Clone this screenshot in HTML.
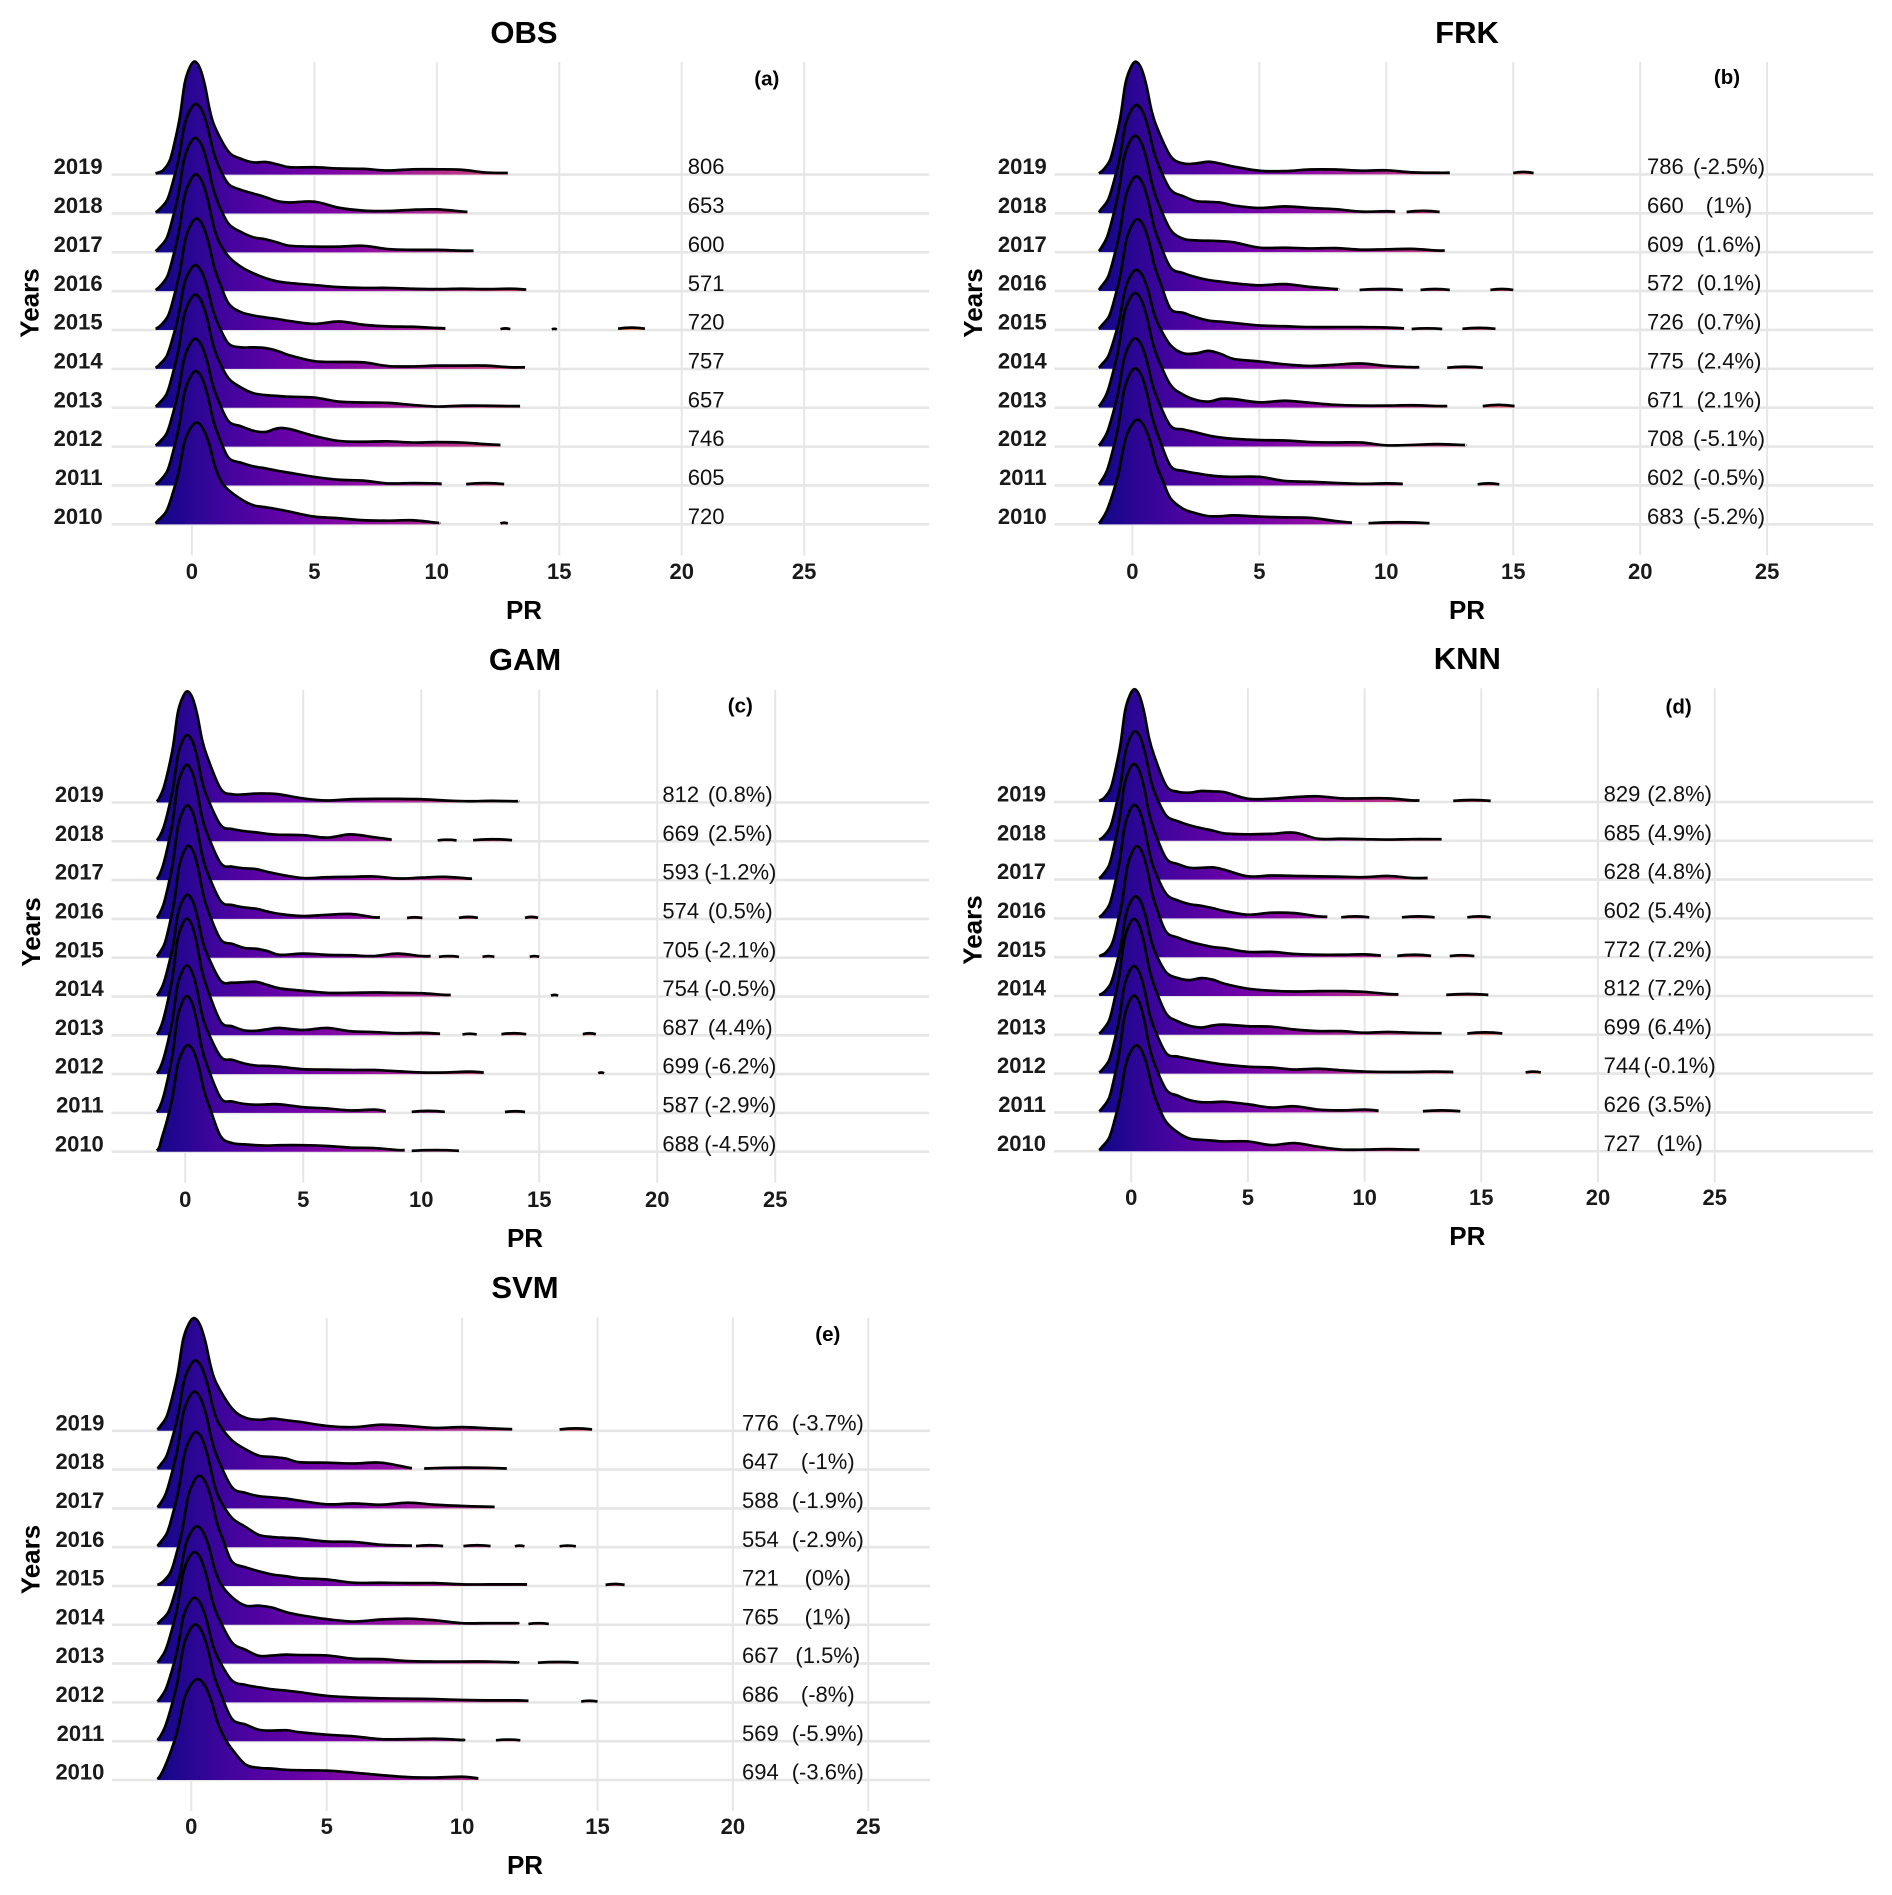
<!DOCTYPE html>
<html lang="en">
<head>
<meta charset="utf-8">
<title>Precipitation ridgeline plots 2010-2019</title>
<style>
html,body{margin:0;padding:0;background:#fff;}
svg{display:block;font-family:"Liberation Sans",Arial,sans-serif;}
.title{font-size:31px;font-weight:700;text-anchor:middle;fill:#000;}
.axt{font-size:26px;font-weight:700;text-anchor:middle;fill:#000;}
.tag{font-size:20.5px;font-weight:700;text-anchor:middle;fill:#000;}
.tick{font-size:22px;font-weight:700;text-anchor:middle;fill:#1a1a1a;}
.yr{font-size:22px;font-weight:700;text-anchor:end;fill:#1a1a1a;}
.val{font-size:22px;fill:#111;}
.pct{font-size:22px;fill:#111;text-anchor:middle;}
</style>
</head>
<body>
<svg id="chart" xmlns="http://www.w3.org/2000/svg" width="1892" height="1895" viewBox="0 0 1892 1895">
<rect x="0" y="0" width="1892" height="1895" fill="#fff"/>
<defs id="defs"></defs>

<g id="panel-obs">
<g class="plot"></g>
<text class="title" x="524" y="43">OBS</text>
<text class="axt" x="524" y="619">PR</text>
<text class="axt" transform="translate(38.5,303) rotate(-90)">Years</text>
<text class="tag" x="766.8" y="85.5">(a)</text>
</g>

<g id="panel-frk">
<g class="plot"></g>
<text class="title" x="1467" y="43">FRK</text>
<text class="axt" x="1467" y="619">PR</text>
<text class="axt" transform="translate(982,303) rotate(-90)">Years</text>
<text class="tag" x="1727" y="84">(b)</text>
</g>

<g id="panel-gam">
<g class="plot"></g>
<text class="title" x="525" y="670">GAM</text>
<text class="axt" x="525" y="1247">PR</text>
<text class="axt" transform="translate(39.8,932) rotate(-90)">Years</text>
<text class="tag" x="740.3" y="712.5">(c)</text>
</g>

<g id="panel-knn">
<g class="plot"></g>
<text class="title" x="1467.3" y="669">KNN</text>
<text class="axt" x="1467.3" y="1245">PR</text>
<text class="axt" transform="translate(981.5,930) rotate(-90)">Years</text>
<text class="tag" x="1678.6" y="713.3">(d)</text>
</g>

<g id="panel-svm">
<g class="plot"></g>
<text class="title" x="525" y="1298">SVM</text>
<text class="axt" x="525" y="1874">PR</text>
<text class="axt" transform="translate(39.5,1559.5) rotate(-90)">Years</text>
<text class="tag" x="827.8" y="1341">(e)</text>
</g>
</svg>

<script>
// Shared categories and ticks
const years = [2019,2018,2017,2016,2015,2014,2013,2012,2011,2010];
const xTicks = [0,5,10,15,20,25];
// Density grid for the right tail (PR units)
const tailX = [1.5,2,2.5,3,3.5,4,5,6,7,8,9,10,11,12,13,14];
// Normalised shape of the main mode
const coreOffset = [-1.6,-1.29,-1.02,-0.81,-0.61,-0.41,-0.2,0,0.21,0.41,0.61,0.82];
const coreShape = [0.01,0.04,0.127,0.30,0.51,0.81,0.95,1,0.94,0.79,0.57,0.42];
const endDensity = 4;

// OBS
const obsCounts = [806,653,600,571,720,757,657,746,605,720];
const obsPct = ["","","","","","","","","",""];
const obsPeakX = [0.12,0.17,0.15,0.17,0.2,0.15,0.15,0.15,0.17,0.2];
const obsPeak = [278,269,281,287,274,255,278,265,281,250];
const obsWidth = [1,1.15,1.15,1.15,1.15,1.15,1.15,1.15,1.15,1.22];
const obsEnd = [12.9,11.25,11.5,13.65,10.35,13.6,13.4,12.6,10.2,10.1];
const obsTail = [
 [56,39,30,31,25,18,18,15,14,10,13,13,12,5],
 [72,58,49,40,30,27,29,14,7,6,9,10,5],
 [70,50,37,32,24,16,14,14,16,8,6,6,4],
 [85,60,44,32,24,20,15,10,8,8,6,5,6,5,6],
 [65,44,36,31,27,22,15,21,13,9,8,5],
 [62,53,53,51,44,33,19,17,16,7,6,8,8,8,4],
 [72,50,36,31,29,27,25,15,13,12,7,3,5,5,4],
 [62,50,39,36,45,43,26,14,12,13,10,11,10,6],
 [68,56,47,42,36,31,21,14,12,5,6,5],
 [84,62,47,42,37,31,19,15,10,9,10,4]
];
const obsIslands = [[],[],[],[],[[12.6,13,4],[14.7,14.9,3],[17.4,18.5,6]],[],[],[],[[11.2,12.75,6]],[[12.6,12.9,4]]];

// FRK
const frkCounts = [786,660,609,572,726,775,671,708,602,683];
const frkPct = ["(-2.5%)","(1%)","(1.6%)","(0.1%)","(0.7%)","(2.4%)","(2.1%)","(-5.1%)","(-0.5%)","(-5.2%)"];
const frkPeakX = [0.14,0.17,0.12,0.17,0.21,0.17,0.12,0.12,0.12,0.21];
const frkPeak = [277,266,286,282,272,243,282,266,288,257];
const frkWidth = [1,1.1,1.1,1.1,1.1,1.1,1.1,1.1,1.1,1.2];
const frkEnd = [12.5,10.35,12.3,8.1,10.7,11.3,12.4,13.1,10.65,8.65];
const frkTail = [
 [45,27,27,31,26,19,9,8,12,12,9,10,5,4],
 [58,42,30,28,26,19,13,17,13,10,4,5],
 [55,33,29,28,27,24,11,11,9,10,6,7,8,4],
 [58,44,34,27,23,19,14,17,10,5],
 [52,42,31,23,20,17,11,9,7,7,7,6],
 [58,38,38,44,36,24,18,11,7,10,13,7,4],
 [56,32,19,15,22,21,13,17,12,7,5,5,6,4],
 [51,42,35,27,22,19,16,15,11,10,10,3,4,6,4],
 [48,36,30,25,22,21,21,11,9,6,4,5],
 [64,38,27,20,20,22,19,17,16,8]
];
const frkIslands = [[[15,15.8,6]],[[10.8,12.1,6]],[],[[8.95,10.65,5],[11.35,12.5,5],[14.1,15,5]],[[11,12.2,4],[13,14.3,5]],[[12.4,13.8,5]],[[13.8,15.05,7]],[],[[13.6,14.45,5]],[[9.3,11.7,5]]];

// GAM
const gamCounts = [812,669,593,574,705,754,687,699,587,688];
const gamPct = ["(0.8%)","(2.5%)","(-1.2%)","(0.5%)","(-2.1%)","(-0.5%)","(4.4%)","(-6.2%)","(-2.9%)","(-4.5%)"];
const gamPeakX = [0.1,0.1,0.08,0.1,0.15,0.1,0.08,0.08,0.08,0.13];
const gamPeak = [273,261,283,279,275,250,287,267,287,262];
const gamWidth = [1,1,1,1,1,1,1,1,1,1.1];
const gamEnd = [14.1,8.75,12.15,8.25,10.4,11.25,10.8,12.65,8.5,9.3];
const gamTail = [
 [34,20,20,22,22,20,10,5,8,9,9,8,5,3,4,3],
 [40,30,25,22,18,16,15,9,17,10],
 [42,33,29,27,20,14,5,7,8,9,4,6,8,4],
 [44,34,28,25,18,12,7,10,12,4],
 [45,34,24,22,16,7,10,7,6,4,10,4],
 [39,34,35,36,28,20,14,9,9,10,9,8,4],
 [34,22,12,11,15,18,13,18,10,8,5,6],
 [43,35,26,21,20,18,12,11,10,10,7,4,4,6],
 [37,28,22,20,21,21,14,11,6,8],
 [38,21,18,16,15,16,16,14,10,9,4]
];
const gamIslands = [[],[[10.7,11.5,4],[12.2,13.85,5]],[],[[9.4,10.05,4],[11.6,12.4,5],[14.4,14.95,5]],[[10.75,11.6,4],[12.6,13.1,4],[14.6,15,4]],[[15.5,15.8,4]],[[11.75,12.35,4],[13.4,14.45,5],[16.85,17.4,5]],[[17.5,17.75,4]],[[9.6,11,5],[13.55,14.4,4]],[[9.6,11.6,4]]];

// KNN
const knnCounts = [829,685,628,602,772,812,699,744,626,727];
const knnPct = ["(2.8%)","(4.9%)","(4.8%)","(5.4%)","(7.2%)","(7.2%)","(6.4%)","(-0.1%)","(3.5%)","(1%)"];
const knnPeakX = [0.15,0.18,0.13,0.15,0.26,0.2,0.13,0.13,0.13,0.23];
const knnPeak = [277,269,284,279,273,245,285,264,287,260];
const knnWidth = [1,1.05,1.05,1.05,1.05,1.05,1.05,1.05,1.05,1.15];
const knnEnd = [12.35,13.3,12.7,8.4,10.7,11.45,13.3,13.8,10.6,12.35];
const knnTail = [
 [40,25,23,27,26,24,8,8,12,14,9,9,9,4],
 [62,48,38,31,25,18,16,17,20,5,5,4,3,4,4],
 [52,38,29,29,30,24,8,10,9,8,7,6,9,4],
 [60,44,35,31,25,18,9,14,13,5],
 [62,48,38,31,25,22,13,13,8,6,6,7],
 [58,44,39,44,40,30,18,13,11,12,12,10,5],
 [52,33,22,18,23,25,21,20,13,9,9,5,7,5,4],
 [50,42,36,31,26,22,17,15,10,12,8,5,4,4,5],
 [56,41,30,25,25,26,20,12,15,7,5,7],
 [72,46,31,28,26,24,24,15,20,11,4,4,5,4]
];
const knnIslands = [[[13.8,15.4,5]],[],[],[[9,10.2,5],[11.6,13,5],[14.4,15.4,5]],[[11.4,12.85,6],[13.65,14.7,5]],[[13.5,15.3,5]],[[14.4,15.9,6]],[[16.9,17.55,5]],[[12.5,14.1,5]],[]];

// SVM
const svmCounts = [776,647,588,554,721,765,667,686,569,694];
const svmPct = ["(-3.7%)","(-1%)","(-1.9%)","(-2.9%)","(0%)","(1%)","(1.5%)","(-8%)","(-5.9%)","(-3.6%)"];
const svmPeakX = [0.11,0.16,0.13,0.18,0.31,0.22,0.13,0.13,0.16,0.24];
const svmPeak = [277,268,287,283,271,242,274,257,287,248];
const svmWidth = [1,1.05,1.05,1.05,1.05,1.05,1.05,1.05,1.1,1.2];
const svmEnd = [11.85,8.15,11.2,8.15,12.4,12,12,12.45,10,10.6];
const svmTail = [
 [55,32,27,30,26,22,12,9,15,12,7,9,6],
 [72,50,34,31,27,18,17,15,17,5],
 [52,38,30,27,24,19,10,12,9,14,9,6,4],
 [72,50,30,25,23,21,14,13,6,4],
 [60,46,36,28,24,19,16,8,8,7,7,4,4,4],
 [68,47,47,42,31,24,14,8,13,15,11,4,4,4],
 [52,34,19,20,22,21,20,12,11,6,5,5,5,3],
 [54,43,37,32,29,25,16,12,10,9,8,6,5,5],
 [55,41,28,26,27,22,16,12,5,5,6,3],
 [76,38,30,28,25,24,23,18,12,7,6,8]
];
const svmIslands = [[[13.6,14.8,6]],[[8.6,11.65,5]],[],[[8.3,9.3,5],[10.05,11.05,5],[11.95,12.3,4],[13.6,14.2,4]],[[15.3,16,5]],[[12.45,13.2,4]],[[12.8,14.3,4]],[[14.4,15,4]],[[11.25,12.15,4]],[]];

// Colour ramp (plasma) stops
const plasmaStops = ["#0D0887","#41049D","#6A00A8","#8F0DA4","#B12A90","#CC4678","#E16462","#F1844B","#FCA636","#FCCE25","#F0F921"];
const gradientDomain = [-1.5,27];

const NS = 'http://www.w3.org/2000/svg';
const densityToPx = 0.407;

const panels = [
 {id:'obs',x0:191.9,ppu:24.49,base0:174.6,step:38.86,top:61.9,left:111.6,right:929,yrX:102.6,valX:687.8,pctX:766.8,tickY:579,leftEnd:-1.48,counts:obsCounts,pct:obsPct,peakX:obsPeakX,peak:obsPeak,width:obsWidth,end:obsEnd,tail:obsTail,islands:obsIslands},
 {id:'frk',x0:1132.4,ppu:25.39,base0:174.4,step:38.88,top:61.9,left:1054.6,right:1873.3,yrX:1046.8,valX:1647,pctX:1729,tickY:579,leftEnd:-1.32,counts:frkCounts,pct:frkPct,peakX:frkPeakX,peak:frkPeak,width:frkWidth,end:frkEnd,tail:frkTail,islands:frkIslands},
 {id:'gam',x0:185.2,ppu:23.6,base0:802.5,step:38.8,top:689.8,left:111.6,right:929,yrX:103.8,valX:662.4,pctX:740.3,tickY:1206.8,leftEnd:-1.2,counts:gamCounts,pct:gamPct,peakX:gamPeakX,peak:gamPeak,width:gamWidth,end:gamEnd,tail:gamTail,islands:gamIslands},
 {id:'knn',x0:1131.2,ppu:23.34,base0:802,step:38.8,top:688.2,left:1054,right:1873,yrX:1046,valX:1603.6,pctX:1679.6,tickY:1205.2,leftEnd:-1.37,counts:knnCounts,pct:knnPct,peakX:knnPeakX,peak:knnPeak,width:knnWidth,end:knnEnd,tail:knnTail,islands:knnIslands},
 {id:'svm',x0:191.3,ppu:27.08,base0:1430.8,step:38.8,top:1317.7,left:112,right:930,yrX:104.4,valX:742,pctX:827.8,tickY:1834.2,leftEnd:-1.25,counts:svmCounts,pct:svmPct,peakX:svmPeakX,peak:svmPeak,width:svmWidth,end:svmEnd,tail:svmTail,islands:svmIslands}
];

function smoothPath(pts, start){
  let d = start ? start : ('M' + pts[0][0].toFixed(2) + ' ' + pts[0][1].toFixed(2));
  for (let i = 0; i < pts.length - 1; i++) {
    const p0 = pts[Math.max(0, i - 1)], p1 = pts[i], p2 = pts[i + 1], p3 = pts[Math.min(pts.length - 1, i + 2)];
    const c1x = p1[0] + (p2[0] - p0[0]) / 6, c1y = p1[1] + (p2[1] - p0[1]) / 6;
    const c2x = p2[0] - (p3[0] - p1[0]) / 6, c2y = p2[1] - (p3[1] - p1[1]) / 6;
    d += 'C' + c1x.toFixed(2) + ' ' + c1y.toFixed(2) + ' ' + c2x.toFixed(2) + ' ' + c2y.toFixed(2) + ' ' + p2[0].toFixed(2) + ' ' + p2[1].toFixed(2);
  }
  return d;
}

const defs = document.getElementById('defs');

panels.forEach(function (p) {
  const plot = document.querySelector('#panel-' + p.id + ' .plot');
  const xScale = function (v) { return p.x0 + p.ppu * v; };
  const yBase = function (i) { return p.base0 + p.step * i; };
  const yDensity = function (i, d) { return yBase(i) - d * densityToPx; };
  const gridBottom = yBase(years.length - 1) + 31;

  // gradient
  const grad = document.createElementNS(NS, 'linearGradient');
  grad.setAttribute('id', 'fill-' + p.id);
  grad.setAttribute('gradientUnits', 'userSpaceOnUse');
  grad.setAttribute('x1', xScale(gradientDomain[0]));
  grad.setAttribute('x2', xScale(gradientDomain[1]));
  grad.setAttribute('y1', 0);
  grad.setAttribute('y2', 0);
  plasmaStops.forEach(function (c, k) {
    const s = document.createElementNS(NS, 'stop');
    s.setAttribute('offset', k / (plasmaStops.length - 1));
    s.setAttribute('stop-color', c);
    grad.appendChild(s);
  });
  defs.appendChild(grad);
  const fillUrl = 'url(#fill-' + p.id + ')';

  // vertical gridlines and tick labels
  xTicks.forEach(function (t) {
    const ln = document.createElementNS(NS, 'line');
    
    
    ln.setAttribute('x1', xScale(t));
    ln.setAttribute('x2', xScale(t));
    ln.setAttribute('y1', p.top);
    ln.setAttribute('y2', gridBottom);
    ln.setAttribute('stroke', '#e6e6e6');
    ln.setAttribute('stroke-width', '2');
    plot.appendChild(ln);
    const tx = document.createElementNS(NS, 'text');
    
    
    tx.setAttribute('class', 'tick');
    tx.setAttribute('x', xScale(t));
    tx.setAttribute('y', p.tickY);
    tx.textContent = t;
    plot.appendChild(tx);
  });

  // horizontal gridlines
  years.forEach(function (yr, i) {
    const ln = document.createElementNS(NS, 'line');
    
    
    ln.setAttribute('x1', p.left);
    ln.setAttribute('x2', p.right);
    ln.setAttribute('y1', yBase(i));
    ln.setAttribute('y2', yBase(i));
    ln.setAttribute('stroke', '#e6e6e6');
    ln.setAttribute('stroke-width', '2.6');
    plot.appendChild(ln);
  });

  // ridges, top year first so lower years paint over
  years.forEach(function (yr, i) {
    const g = document.createElementNS(NS, 'g');
    
    
    const base = yBase(i);
    const pts = [];
    coreOffset.forEach(function (o, k) {
      let xv = p.peakX[i] + o * p.width[i];
      if (k === 0) {
        xv = p.leftEnd;
      } else if (o < 0) {
        xv = Math.max(xv, p.leftEnd + 0.1 * k);
      }
      pts.push([xScale(xv), yDensity(i, p.peak[i] * coreShape[k])]);
    });
    p.tail[i].forEach(function (d, k) {
      pts.push([xScale(tailX[k]), yDensity(i, d)]);
    });
    pts.push([xScale(p.end[i]), yDensity(i, endDensity)]);

    const area = document.createElementNS(NS, 'path');
    
    
    const startAt = 'M' + pts[0][0].toFixed(2) + ' ' + base.toFixed(2) + 'L' + pts[0][0].toFixed(2) + ' ' + pts[0][1].toFixed(2);
    area.setAttribute('d', smoothPath(pts, startAt) + 'L' + pts[pts.length - 1][0].toFixed(2) + ' ' + base.toFixed(2) + 'Z');
    area.setAttribute('fill', fillUrl);
    g.appendChild(area);

    const line = document.createElementNS(NS, 'path');
    
    
    line.setAttribute('d', smoothPath(pts));
    line.setAttribute('fill', 'none');
    line.setAttribute('stroke', '#000');
    line.setAttribute('stroke-width', '2.7');
    line.setAttribute('stroke-linejoin', 'round');
    g.appendChild(line);

    p.islands[i].forEach(function (isl) {
      const x0 = xScale(isl[0]), x1 = xScale(isl[1]);
      const yTop = yDensity(i, isl[2]);
      const lift = yDensity(i, isl[2] * 0.55);
      const isA = document.createElementNS(NS, 'path');
      
      
      isA.setAttribute('d', 'M' + x0.toFixed(2) + ' ' + base.toFixed(2) + 'L' + x0.toFixed(2) + ' ' + lift.toFixed(2) + 'Q' + ((x0 + x1) / 2).toFixed(2) + ' ' + (2 * yTop - lift).toFixed(2) + ' ' + x1.toFixed(2) + ' ' + lift.toFixed(2) + 'L' + x1.toFixed(2) + ' ' + base.toFixed(2) + 'Z');
      isA.setAttribute('fill', fillUrl);
      g.appendChild(isA);
      const isL = document.createElementNS(NS, 'path');
      
      
      isL.setAttribute('d', 'M' + x0.toFixed(2) + ' ' + lift.toFixed(2) + 'Q' + ((x0 + x1) / 2).toFixed(2) + ' ' + (2 * yTop - lift).toFixed(2) + ' ' + x1.toFixed(2) + ' ' + lift.toFixed(2));
      isL.setAttribute('fill', 'none');
      isL.setAttribute('stroke', '#000');
      isL.setAttribute('stroke-width', '2.7');
      g.appendChild(isL);
    });
    plot.appendChild(g);
  });

  // year labels, counts, percentages
  years.forEach(function (yr, i) {
    const ty = yBase(i) - 0.4;
    const a = document.createElementNS(NS, 'text');
    
    
    a.setAttribute('class', 'yr');
    a.setAttribute('x', p.yrX);
    a.setAttribute('y', ty);
    a.textContent = yr;
    plot.appendChild(a);
    const v = document.createElementNS(NS, 'text');
    
    
    v.setAttribute('class', 'val');
    v.setAttribute('x', p.valX);
    v.setAttribute('y', ty);
    v.textContent = p.counts[i];
    plot.appendChild(v);
    if (p.pct[i]) {
      const c = document.createElementNS(NS, 'text');
      
      
      c.setAttribute('class', 'pct');
      c.setAttribute('x', p.pctX);
      c.setAttribute('y', ty);
      c.textContent = p.pct[i];
      plot.appendChild(c);
    }
  });
});
</script>
</body>
</html>
